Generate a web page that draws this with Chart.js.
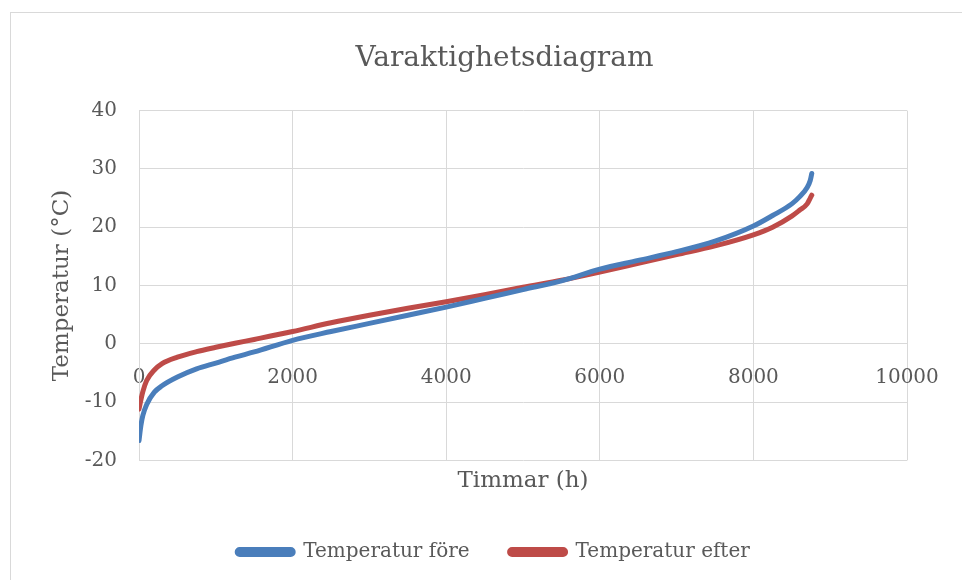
<!DOCTYPE html>
<html>
<head>
<meta charset="utf-8">
<script src="https://cdn.jsdelivr.net/npm/chart.js@4"></script>
<style>
  html, body { margin: 0; padding: 0; background: #fff; }
  #wrap { width: 962px; height: 580px; }
</style>
</head>
<body>
<div id="wrap"><canvas id="varaktighet"></canvas></div>
<script>
// Hours of the year, sorted duration curve
const hours = [0, 25, 50, 100, 200, 300, 500, 750, 1000, 1250, 1500, 2000, 2500, 3000, 3500,
               4000, 4500, 5000, 5500, 6000, 6500, 7000, 7500, 8000, 8250, 8500, 8600, 8700, 8740, 8760];
const tempFore = [-16.6, -14.0, -12.3, -10.4, -8.3, -7.2, -5.7, -4.3, -3.3, -2.3, -1.4, 0.6, 2.1, 3.5, 4.9,
                  6.3, 7.8, 9.3, 10.8, 12.8, 14.3, 15.8, 17.6, 20.2, 22.0, 24.0, 25.2, 26.8, 28.0, 29.2];
const tempEfter = [-11.2, -9.6, -8.2, -6.3, -4.5, -3.4, -2.3, -1.35, -0.6, 0.1, 0.75, 2.1, 3.6, 4.9, 6.1,
                   7.2, 8.4, 9.7, 10.9, 12.3, 13.8, 15.3, 16.8, 18.7, 20.0, 21.9, 22.9, 24.0, 25.0, 25.5];
const seriesNames = ['Temperatur före', 'Temperatur efter'];

const textColor = '#595959';
const gridColor = '#d9d9d9';
const serif = "'DejaVu Serif', serif";

// light frame around the chart like the Excel chart object
const framePlugin = {
    id: 'frame',
    beforeDraw(chart) {
        const c = chart.ctx;
        c.save();
        c.strokeStyle = gridColor;
        c.lineWidth = 1;
        c.strokeRect(10.5, 12.5, 1200, 1200);
        c.restore();
    }
};

// nudge title and legend sideways so they sit like in the Excel original
const shiftPlugin = {
    id: 'shift',
    afterLayout(chart) {
        if (chart.titleBlock) { chart.titleBlock.left += 51; chart.titleBlock.right += 51; }
        if (chart.legend) { chart.legend.left += 40; chart.legend.right += 40; }
    }
};

const toPoints = vals => vals.map((v, i) => ({ x: hours[i], y: v }));

const ctx = document.getElementById('varaktighet').getContext('2d');
new Chart(ctx, {
    type: 'line',
    data: {
        datasets: [{
            label: seriesNames[0],
            data: toPoints(tempFore),
            borderColor: '#4a7ebb',
            backgroundColor: '#4a7ebb',
        }, {
            label: seriesNames[1],
            data: toPoints(tempEfter),
            borderColor: '#be4b48',
            backgroundColor: '#be4b48',
        }]
    },
    options: {
        responsive: true,
        maintainAspectRatio: false,
        animation: false,
        layout: { padding: { left: 0, right: 55, top: 0, bottom: 8 } },
        elements: {
            line: { borderWidth: 5, cubicInterpolationMode: 'monotone', borderCapStyle: 'round' },
            point: { radius: 0 }
        },
        scales: {
            x: {
                type: 'linear',
                position: { y: 0 },
                min: 0, max: 10000,
                grid: { color: gridColor, drawTicks: false },
                border: { color: gridColor },
                ticks: { stepSize: 2000, padding: 22, color: textColor, font: { family: serif, size: 20 },
                         callback: v => String(v) }
            },
            x2: {
                type: 'linear',
                axis: 'x',
                position: 'bottom',
                min: 0, max: 10000,
                grid: { display: false, drawTicks: false },
                border: { display: false },
                ticks: { display: false },
                title: { display: true, text: 'Timmar (h)', color: textColor,
                         font: { family: serif, size: 23 }, padding: { top: 7, bottom: 7 } }
            },
            y: {
                min: -20, max: 40,
                grid: { color: gridColor, drawTicks: false },
                border: { color: gridColor },
                ticks: { stepSize: 10, padding: 22, color: textColor, font: { family: serif, size: 20 } },
                title: { display: true, text: 'Temperatur (°C)', color: textColor,
                         font: { family: serif, size: 23 }, padding: { top: 48, bottom: 0 } },
                afterFit(scale) { scale.width = 139; }
            }
        },
        plugins: {
            title: {
                display: true,
                text: 'Varaktighetsdiagram',
                color: textColor,
                font: { family: serif, size: 28, weight: 'normal' },
                padding: { top: 42, bottom: 35 }
            },
            legend: {
                position: 'bottom',
                labels: {
                    color: textColor,
                    font: { family: serif, size: 20 },
                    boxWidth: 56,
                    boxHeight: 5,
                    padding: 40,
                    useBorderRadius: true,
                    borderRadius: 2.5
                }
            },
            tooltip: { enabled: false }
        }
    },
    plugins: [framePlugin, shiftPlugin]
});
</script>
</body>
</html>
